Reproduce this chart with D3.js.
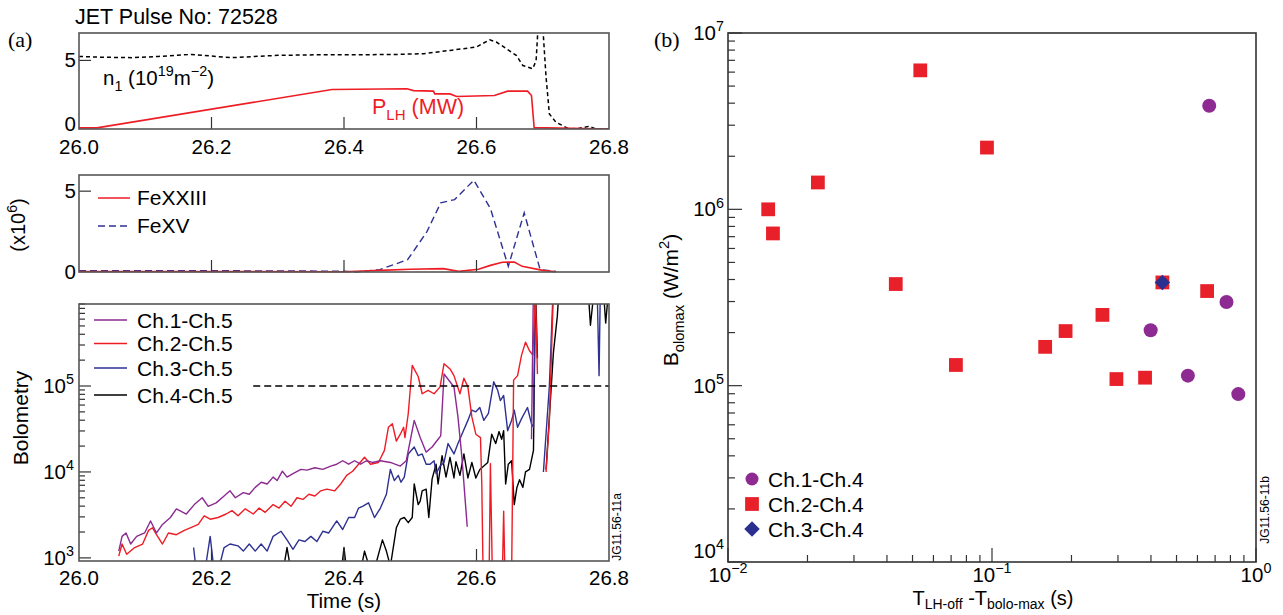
<!DOCTYPE html>
<html>
<head>
<meta charset="utf-8">
<script src="https://cdn.jsdelivr.net/npm/d3@7"></script>
<style>
body { margin: 0; background: #fff; }
svg { font-family: "Liberation Sans", Arial, sans-serif; }
.frame { fill: none; stroke: #555; stroke-width: 1.6; }
.tick { stroke: #333; stroke-width: 1.2; }
</style>
</head>
<body>
<div id="chart"></div>
<script>
// ---- data ----
var timeTicks = [26.0, 26.2, 26.4, 26.6, 26.8];

// line-averaged density n1 (10^19 m^-2), dashed
var densityN1 = [[26.0,5.29],[26.03,5.24],[26.08,5.2],[26.12,5.29],[26.17,5.44],[26.23,5.2],
  [26.30,5.37],[26.36,5.41],[26.42,5.41],[26.48,5.44],[26.52,5.49],[26.56,5.73],[26.60,5.98],
  [26.62,6.51],[26.63,6.34],[26.66,5.37],[26.67,4.63],[26.685,4.39],[26.69,5.0],[26.693,7.5],
  [26.70,7.5],[26.705,3.78],[26.71,1.1],[26.72,0.49],[26.74,0.0],[26.755,0.05],[26.77,0.2],
  [26.78,0.0],[26.8,0.0]];
// lower hybrid power (MW)
var powerLH = [[26.0,0.08],[26.027,0.08],[26.382,2.88],[26.495,2.93],[26.505,2.8],[26.535,2.76],
  [26.537,2.56],[26.56,2.56],[26.57,2.37],[26.627,2.44],[26.647,2.76],[26.677,2.76],[26.683,2.44],
  [26.687,0.1],[26.8,0.0]];

// spectroscopy (x10^6)
var feXXIII = [[26.0,0.03],[26.2,0.03],[26.4,0.02],[26.454,0.1],[26.5,0.17],[26.55,0.21],
  [26.573,0.04],[26.603,0.17],[26.621,0.41],[26.639,0.6],[26.657,0.62],[26.669,0.35],
  [26.7,0.1],[26.72,0.02]];
var feXV = [[26.0,0.08],[26.2,0.08],[26.4,0.05],[26.418,0.0],[26.454,0.15],[26.496,0.76],
  [26.525,2.48],[26.546,4.28],[26.567,4.48],[26.596,5.68],[26.621,3.93],[26.648,0.35],
  [26.672,3.66],[26.696,0.15],[26.72,0.04]];

// bolometry channel differences (null = gap)
var boloCh1 = [[26.060,1.2e3],[26.065,1.78e3],[26.071,1.95e3],[26.078,1.45e3],[26.087,1.78e3],
  [26.099,1.95e3],[26.108,2.69e3],[26.117,1.95e3],[26.126,2.45e3],[26.138,2.95e3],[26.147,3.72e3],
  [26.162,3.24e3],[26.174,4.17e3],[26.186,5.01e3],[26.195,3.98e3],[26.207,4.37e3],[26.219,5.25e3],
  [26.228,6.03e3],[26.236,5.01e3],[26.248,5.75e3],[26.257,5.5e3],[26.266,6.61e3],[26.275,7.59e3],
  [26.284,7.24e3],[26.293,8.71e3],[26.299,7.94e3],[26.307,1.02e4],[26.314,8.71e3],[26.323,9.55e3],
  [26.335,1.07e4],[26.344,1.05e4],[26.356,1.12e4],[26.368,1.07e4],[26.380,1.17e4],[26.389,1.23e4],
  [26.398,1.35e4],[26.407,1.23e4],[26.416,1.35e4],[26.425,1.23e4],[26.434,1.35e4],[26.443,1.29e4],
  [26.455,1.35e4],[26.470,1.29e4],[26.485,1.17e4],[26.494,1.35e4],[26.506,3.98e4],[26.515,2.51e4],
  [26.524,1.7e4],[26.533,1.95e4],[26.542,2.4e4],[26.546,2.63e4],[26.551,1.38e5],[26.560,1.12e5],
  [26.566,9.77e4],[26.572,4.37e4],[26.578,1.48e4],[26.586,2.3e3],null,
  [26.683,2.4e4],[26.686,1.6e6]];
var boloCh2 = [[26.060,1.05e3],[26.065,1.45e3],[26.072,1.1e3],[26.084,1.32e3],[26.096,1.45e3],
  [26.105,2.09e3],[26.111,2.24e3],[26.117,1.86e3],[26.126,1.45e3],[26.135,1.95e3],[26.147,1.86e3],
  [26.159,2.09e3],[26.168,2.24e3],[26.180,2.45e3],[26.189,3.09e3],[26.198,2.82e3],[26.210,2.95e3],
  [26.222,3.24e3],[26.231,3.55e3],[26.240,3.09e3],[26.251,3.72e3],[26.263,3.24e3],[26.272,3.8e3],
  [26.281,3.39e3],[26.293,4.17e3],[26.302,3.8e3],[26.311,4.57e3],[26.320,3.98e3],[26.329,5.01e3],
  [26.338,4.79e3],[26.347,5.5e3],[26.356,5.25e3],[26.365,6.03e3],[26.374,6.31e3],[26.386,6.03e3],
  [26.395,7.24e3],[26.404,9.12e3],[26.413,1.02e4],[26.422,1.23e4],[26.431,1.48e4],[26.440,1.23e4],
  [26.452,1.29e4],[26.461,1.78e4],[26.467,3.31e4],[26.473,3.63e4],[26.479,2.29e4],[26.485,2.75e4],
  [26.490,3.31e4],[26.492,2.51e4],[26.497,4.79e4],[26.503,1.74e5],[26.512,1.29e5],[26.518,8.13e4],
  [26.527,8.91e4],[26.536,8.13e4],[26.545,9.77e4],[26.551,1.82e5],[26.560,1.58e5],[26.566,1.32e5],
  [26.575,8.13e4],[26.581,1.23e5],[26.587,9.77e4],[26.593,4.37e4],[26.599,2.75e4],[26.606,2.51e4],
  [26.608,7.24e3],[26.610,600],null,
  [26.619,600],[26.621,1.25e4],[26.624,600],null,
  [26.639,600],[26.641,3.5e3],[26.643,600],null,
  [26.653,600],[26.656,1.17e5],[26.662,1.32e5],[26.668,2.29e5],[26.674,3.24e5],[26.680,2.57e5],
  [26.685,2.29e5],[26.689,1.2e6],[26.692,1.38e5],null,
  [26.705,1.0e4],[26.710,4.0e4],[26.716,1.2e6]];
var boloCh3 = [[26.173,1.32e3],[26.177,700],[26.190,700],[26.198,1.78e3],[26.204,700],[26.210,700],
  [26.219,1.32e3],[26.228,1.45e3],[26.240,1.38e3],[26.248,1.2e3],[26.257,1.45e3],[26.266,1.2e3],
  [26.275,1.45e3],[26.284,1.2e3],[26.293,1.78e3],[26.305,2.04e3],[26.314,1.62e3],[26.323,1.26e3],
  [26.332,1.62e3],[26.341,1.55e3],[26.350,1.78e3],[26.359,1.55e3],[26.368,2.04e3],[26.377,1.95e3],
  [26.389,2.69e3],[26.398,2.14e3],[26.407,2.95e3],[26.416,2.95e3],[26.422,3.8e3],[26.428,3.98e3],
  [26.437,4.37e3],[26.446,2.95e3],[26.455,3.8e3],[26.464,5.5e3],[26.470,1.07e4],[26.476,7.94e3],
  [26.482,9.12e3],[26.486,7.59e3],[26.491,8.71e3],[26.497,1.62e4],[26.506,1.95e4],[26.512,1.55e4],
  [26.518,1.62e4],[26.524,1.23e4],[26.530,1.23e4],[26.536,1.35e4],[26.539,9.55e3],[26.545,1.17e4],
  [26.551,1.29e4],[26.557,2.14e4],[26.566,1.62e4],[26.572,2.14e4],[26.578,2.75e4],[26.587,3.98e4],
  [26.593,5.25e4],[26.599,5.01e4],[26.605,5.62e4],[26.611,3.98e4],[26.618,4.79e4],[26.626,1.12e5],
  [26.632,8.91e4],[26.636,6.76e4],[26.641,7.76e4],[26.647,3.02e4],[26.653,3.98e4],[26.657,5.25e4],
  [26.662,3.31e4],[26.668,4.17e4],[26.677,5.62e4],[26.683,3.63e4],[26.686,3.31e4],[26.689,1.5e6],null,
  [26.701,1.0e4],[26.710,1.0e5],[26.716,1.5e6],null,
  [26.782,1.5e6],[26.785,1.32e5],[26.787,1.5e6]];
var boloCh4 = [[26.308,700],[26.314,1.32e3],[26.320,700],[26.396,700],[26.400,1.32e3],[26.404,700],
  [26.425,700],[26.431,1.2e3],[26.440,700],[26.449,900],[26.458,1.62e3],[26.464,1.2e3],[26.470,800],
  [26.479,2.24e3],[26.485,2.82e3],[26.491,2.95e3],[26.497,2.57e3],[26.503,2.95e3],[26.506,7.24e3],
  [26.512,4.17e3],[26.515,4.57e3],[26.518,6.03e3],[26.524,6.31e3],[26.528,2.95e3],[26.533,8.32e3],
  [26.539,1.23e4],[26.542,7.24e3],[26.548,1.55e4],[26.554,8.71e3],[26.560,1.48e4],[26.566,8.51e3],
  [26.569,1.32e4],[26.575,9.12e3],[26.581,1.62e4],[26.587,8.51e3],[26.593,1.29e4],[26.599,8.51e3],
  [26.605,1.07e4],[26.611,1.17e4],[26.617,1.29e4],[26.623,2.75e4],[26.629,2.14e4],[26.634,2.95e4],
  [26.638,2.4e4],[26.641,3.02e4],[26.644,7.24e3],[26.648,1.23e4],[26.653,1.35e4],[26.657,4.17e3],
  [26.661,6.61e3],[26.665,8.13e3],[26.670,6.61e3],[26.674,1.0e4],[26.680,1.07e4],[26.686,1.78e4],
  [26.689,1.5e6],[26.692,2.1e5],null,
  [26.705,1.07e4],[26.716,2.4e5],[26.722,6.5e5],[26.725,1.5e6],null,
  [26.768,1.5e6],[26.772,5.1e5],[26.777,1.2e6],[26.782,1.5e6],null,
  [26.791,1.5e6],[26.795,5.4e5],[26.800,1.5e6]];
var boloThreshold = 1e5;
var thresholdStart = 26.263;

var boloNames = ["Ch.1-Ch.5", "Ch.2-Ch.5", "Ch.3-Ch.5", "Ch.4-Ch.5"];
var boloColors = ["#8b2a90", "#ee1d25", "#2e3192", "#000"];

// panel (b): time delay (s) vs peak bolometry (W/m^2)
var ch1Ch4 = [[0.665,3.87e6],[0.773,2.98e5],[0.399,2.06e5],[0.552,1.14e5],[0.857,8.96e4]];
var ch2Ch4 = [[0.0535,6.14e6],[0.0957,2.24e6],[0.0219,1.42e6],[0.0142,1.0e6],[0.0148,7.3e5],
  [0.0432,3.77e5],[0.073,1.31e5],[0.159,1.66e5],[0.190,2.04e5],[0.262,2.52e5],[0.296,1.09e5],
  [0.380,1.11e5],[0.442,3.85e5],[0.653,3.44e5]];
var ch3Ch4 = [[0.442,3.85e5]];
var scatterNames = ["Ch.1-Ch.4", "Ch.2-Ch.4", "Ch.3-Ch.4"];

// ---- drawing ----
var width = 1283, height = 615;
var FS = 20.5;   // tick label size
var svg = d3.select("#chart").append("svg").attr("width", width).attr("height", height);

// text with sub/superscript parts: [[str, null|"sub"|"sup"], ...]
function richText(sel, parts, size, subDrop) {
  var shift = 0;
  subDrop = subDrop || 0.3;
  parts.forEach(function(p) {
    var target = p[1] == "sup" ? -0.42 * size : (p[1] == "sub" ? subDrop * size : 0);
    sel.append("tspan").attr("dy", target - shift)
      .attr("font-size", p[1] ? size * 0.7 : size).text(p[0]);
    shift = target;
  });
  return sel;
}
function powLabel(g, x, y, exp, anchor) {
  var t = g.append("text").attr("x", x).attr("y", y).attr("text-anchor", anchor || "end");
  richText(t, [["10", null], [String(exp).replace("-", "\u2212"), "sup"]], FS);
}
function minorLogs(domain) {
  var out = [];
  for (var e = Math.floor(Math.log10(domain[0])); e <= Math.ceil(Math.log10(domain[1])); e++) {
    for (var m = 1; m < 10; m++) {
      var v = m * Math.pow(10, e);
      if (v >= domain[0] && v <= domain[1]) out.push({v: v, major: m == 1});
    }
  }
  return out;
}

var x0 = 79, x1 = 609;
var xL = d3.scaleLinear().domain([26.0, 26.8]).range([x0, x1]);
var innerTicks = [26.2, 26.4, 26.6];

// -- top panel: density and LH power
var yTop = d3.scaleLinear().domain([0, 7]).range([129, 33]);
var gTop = svg.append("g");
gTop.append("clipPath").attr("id", "clipTop").append("rect")
  .attr("x", x0).attr("y", 33).attr("width", x1 - x0).attr("height", 96);
var lineTop = d3.line().x(function(d) { return xL(d[0]); }).y(function(d) { return yTop(d[1]); });
gTop.append("path").datum(densityN1).attr("clip-path", "url(#clipTop)")
  .attr("d", lineTop).attr("fill", "none").attr("stroke", "#000")
  .attr("stroke-width", 1.5).attr("stroke-dasharray", "4,3");
gTop.append("path").datum(powerLH).attr("clip-path", "url(#clipTop)")
  .attr("d", lineTop).attr("fill", "none").attr("stroke", "#ee1d25").attr("stroke-width", 1.6);
gTop.selectAll(".xt").data(innerTicks).enter().append("line").attr("class", "tick")
  .attr("x1", xL).attr("x2", xL).attr("y1", 129).attr("y2", 117);
gTop.append("line").attr("class", "tick").attr("x1", x0).attr("x2", x0 + 12)
  .attr("y1", yTop(5)).attr("y2", yTop(5));
gTop.append("rect").attr("class", "frame").attr("x", x0).attr("y", 33).attr("width", x1 - x0).attr("height", 96);
gTop.selectAll(".yl").data([0, 5]).enter().append("text")
  .attr("x", 76).attr("y", function(d) { return yTop(d) + (d ? 7 : 2); })
  .attr("text-anchor", "end").attr("font-size", 20.5).text(function(d) { return d; });
gTop.selectAll(".xl").data(timeTicks).enter().append("text")
  .attr("x", xL).attr("y", 154).attr("text-anchor", "middle").attr("font-size", FS)
  .text(function(d) { return d.toFixed(1); });
richText(gTop.append("text").attr("x", 103).attr("y", 85),
  [["n", null], ["1", "sub"], [" (10", null], ["19", "sup"], ["m", null], ["\u22122", "sup"], [")", null]], 20.5);
richText(gTop.append("text").attr("x", 372).attr("y", 114).attr("fill", "#ee1d25"),
  [["P", null], ["LH", "sub"], [" (MW)", null]], 21.5);
svg.append("text").attr("x", 75).attr("y", 24).attr("font-size", 21.5).text("JET Pulse No: 72528");
svg.append("text").attr("x", 8).attr("y", 47).attr("font-family", "Liberation Serif, serif")
  .attr("font-size", 22).text("(a)");

// -- middle panel: impurity lines
var yMid = d3.scaleLinear().domain([0, 6]).range([272, 175]);
var gMid = svg.append("g");
var lineMid = d3.line().x(function(d) { return xL(d[0]); }).y(function(d) { return yMid(d[1]); });
gMid.append("path").datum(feXV).attr("d", lineMid).attr("fill", "none").attr("stroke", "#2e3192")
  .attr("stroke-width", 1.4).attr("stroke-dasharray", "7,4");
gMid.append("path").datum(feXXIII).attr("d", lineMid).attr("fill", "none").attr("stroke", "#ee1d25")
  .attr("stroke-width", 1.6);
gMid.selectAll(".xt").data(innerTicks).enter().append("line").attr("class", "tick")
  .attr("x1", xL).attr("x2", xL).attr("y1", 272).attr("y2", 260);
gMid.append("line").attr("class", "tick").attr("x1", x0).attr("x2", x0 + 12)
  .attr("y1", yMid(5)).attr("y2", yMid(5));
gMid.append("rect").attr("class", "frame").attr("x", x0).attr("y", 175).attr("width", x1 - x0).attr("height", 97);
gMid.selectAll(".yl").data([0, 5]).enter().append("text")
  .attr("x", 76).attr("y", function(d) { return yMid(d) + 7; })
  .attr("text-anchor", "end").attr("font-size", 20.5).text(function(d) { return d; });
var midLegend = [["FeXXIII", "#ee1d25", null], ["FeXV", "#2e3192", "7,4"]];
midLegend.forEach(function(l, i) {
  var y = 198 + i * 28;
  gMid.append("line").attr("x1", 98).attr("x2", 130).attr("y1", y).attr("y2", y)
    .attr("stroke", l[1]).attr("stroke-width", 1.5).attr("stroke-dasharray", l[2]);
  gMid.append("text").attr("x", 137).attr("y", y + 7).attr("font-size", 21).text(l[0]);
});
richText(svg.append("text").attr("transform", "translate(25,225) rotate(-90)").attr("text-anchor", "middle"),
  [["(x10", null], ["6", "sup"], [")", null]], 20);

// -- bottom panel: bolometry
var yBot = d3.scaleLog().domain([920, 9e5]).range([561, 304]);
var gBot = svg.append("g");
gBot.append("clipPath").attr("id", "clipBot").append("rect")
  .attr("x", x0).attr("y", 304).attr("width", x1 - x0).attr("height", 257);
var lineBot = d3.line().defined(function(d) { return d != null; })
  .x(function(d) { return xL(d[0]); }).y(function(d) { return yBot(d[1]); });
[boloCh4, boloCh3, boloCh2, boloCh1].forEach(function(s, i) {
  gBot.append("path").datum(s).attr("clip-path", "url(#clipBot)").attr("d", lineBot)
    .attr("fill", "none").attr("stroke", boloColors[3 - i]).attr("stroke-width", 1.4)
    .attr("stroke-linejoin", "round");
});
gBot.append("line").attr("x1", xL(thresholdStart)).attr("x2", xL(26.8))
  .attr("y1", yBot(boloThreshold)).attr("y2", yBot(boloThreshold))
  .attr("stroke", "#000").attr("stroke-width", 1.5).attr("stroke-dasharray", "7,4");
gBot.selectAll(".xt").data(innerTicks).enter().append("line").attr("class", "tick")
  .attr("x1", xL).attr("x2", xL).attr("y1", 561).attr("y2", 549);
gBot.selectAll(".yt").data(minorLogs(yBot.domain())).enter().append("line").attr("class", "tick")
  .attr("x1", x0).attr("x2", function(d) { return d.major ? x0 + 12 : x0 + 6; })
  .attr("y1", function(d) { return yBot(d.v); }).attr("y2", function(d) { return yBot(d.v); });
gBot.append("rect").attr("class", "frame").attr("x", x0).attr("y", 304).attr("width", x1 - x0).attr("height", 257);
[3, 4, 5].forEach(function(e) { powLabel(gBot, 74, yBot(Math.pow(10, e)) + 7, e); });
gBot.selectAll(".xl").data(timeTicks).enter().append("text")
  .attr("x", xL).attr("y", 585).attr("text-anchor", "middle").attr("font-size", FS)
  .text(function(d) { return d.toFixed(1); });
gBot.append("text").attr("x", xL(26.4)).attr("y", 608).attr("text-anchor", "middle")
  .attr("font-size", 20.5).text("Time (s)");
svg.append("text").attr("transform", "translate(28,418) rotate(-90)").attr("text-anchor", "middle")
  .attr("font-size", 21).text("Bolometry");
var boloLegY = [320, 343.5, 368, 395];
boloNames.forEach(function(n, i) {
  var y = boloLegY[i];
  gBot.append("line").attr("x1", 94).attr("x2", 127).attr("y1", y).attr("y2", y)
    .attr("stroke", boloColors[i]).attr("stroke-width", 1.5);
  gBot.append("text").attr("x", 137).attr("y", y + 7.5).attr("font-size", 21).text(n);
});
svg.append("text").attr("transform", "translate(621,527) rotate(-90)").attr("text-anchor", "middle")
  .attr("font-size", 12).text("JG11.56-11a");

// -- panel (b): scatter
var xR = d3.scaleLog().domain([0.01, 1]).range([728, 1256]);
var yR = d3.scaleLog().domain([1e4, 1e7]).range([562, 33]);
var gR = svg.append("g");
gR.selectAll(".yt").data(minorLogs(yR.domain())).enter().append("line").attr("class", "tick")
  .attr("x1", 728).attr("x2", function(d) { return d.major ? 742 : 735; })
  .attr("y1", function(d) { return yR(d.v); }).attr("y2", function(d) { return yR(d.v); });
gR.selectAll(".xt").data(minorLogs(xR.domain())).enter().append("line").attr("class", "tick")
  .attr("y1", 562).attr("y2", function(d) { return d.major ? 548 : 555; })
  .attr("x1", function(d) { return xR(d.v); }).attr("x2", function(d) { return xR(d.v); });
gR.append("rect").attr("x", 728).attr("y", 33).attr("width", 528).attr("height", 529)
  .attr("fill", "none").attr("stroke", "#333").attr("stroke-width", 1.6);
[4, 5, 6, 7].forEach(function(e) { powLabel(gR, 724, yR(Math.pow(10, e)) + (e == 4 ? -4 : 7), e); });
[-2, -1, 0].forEach(function(e) { powLabel(gR, xR(Math.pow(10, e)), 582, e, "middle"); });

var sq = d3.symbol().type(d3.symbolSquare).size(190);
gR.selectAll(".sq").data(ch2Ch4).enter().append("path").attr("d", sq).attr("fill", "#e8202a")
  .attr("transform", function(d) { return "translate(" + xR(d[0]) + "," + yR(d[1]) + ")"; });
gR.selectAll(".ci").data(ch1Ch4).enter().append("circle").attr("r", 7).attr("fill", "#8e2b92")
  .attr("cx", function(d) { return xR(d[0]); }).attr("cy", function(d) { return yR(d[1]); });
var dm = d3.symbol().type(d3.symbolSquare).size(120);
gR.selectAll(".dm").data(ch3Ch4).enter().append("path").attr("d", dm).attr("fill", "#2b3090")
  .attr("transform", function(d) { return "translate(" + xR(d[0]) + "," + yR(d[1]) + ") rotate(45)"; });

// legend
var legY = [479, 504, 529];
gR.append("circle").attr("cx", 752).attr("cy", legY[0]).attr("r", 6.5).attr("fill", "#8e2b92");
gR.append("path").attr("d", sq).attr("fill", "#e8202a").attr("transform", "translate(752," + legY[1] + ")");
gR.append("path").attr("d", dm).attr("fill", "#2b3090").attr("transform", "translate(752," + legY[2] + ") rotate(45)");
scatterNames.forEach(function(n, i) {
  gR.append("text").attr("x", 768).attr("y", legY[i] + 7.5).attr("font-size", 21).text(n);
});

richText(svg.append("text").attr("transform", "translate(678,300) rotate(-90)").attr("text-anchor", "middle"),
  [["B", null], ["olomax", "sub"], [" (W/m", null], ["2", "sup"], [")", null]], 21);
richText(svg.append("text").attr("x", 993).attr("y", 605).attr("text-anchor", "middle"),
  [["T", null], ["LH-off", "sub"], [" -T", null], ["bolo-max", "sub"], [" (s)", null]], 20, 0.22);
svg.append("text").attr("x", 654).attr("y", 47).attr("font-family", "Liberation Serif, serif")
  .attr("font-size", 22).text("(b)");
svg.append("text").attr("transform", "translate(1269,510) rotate(-90)").attr("text-anchor", "middle")
  .attr("font-size", 12).text("JG11.56-11b");
</script>
</body>
</html>
